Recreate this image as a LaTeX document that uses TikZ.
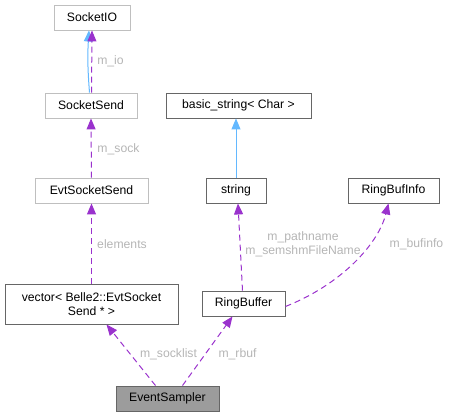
\documentclass[tikz,border=0pt]{standalone}
\usepackage{fontspec}
\setmainfont{Liberation Sans}
\usetikzlibrary{arrows.meta}
\definecolor{usepurple}{HTML}{9A32CD}
\definecolor{inhblue}{HTML}{63B8FF}
\definecolor{boxdark}{HTML}{666666}
\definecolor{boxlight}{HTML}{BFBFBF}
\definecolor{lblgray}{HTML}{B5B5B5}
\begin{document}
\begin{tikzpicture}[x=1pt,y=-1pt,font=\fontsize{12.2}{13.5}\selectfont,
	cls/.style={draw=boxdark,fill=white,line width=0.9pt,inner sep=0pt,minimum height=25pt},
	clslight/.style={cls,draw=boxlight},
	usage/.style={usepurple,line width=1pt,dash pattern=on 6pt off 4pt,-{Triangle[length=11pt,width=9pt]}},
	inherit/.style={inhblue,line width=1pt,-{Triangle[length=11pt,width=9pt]}},
	lbl/.style={lblgray,inner sep=0pt}]
	\useasboundingbox (0,0) rectangle (451,417);
	% left column
	\node[clslight,minimum width=76pt] (sio) at (92,17.5) {SocketIO};
	\node[clslight,minimum width=92pt] (ss) at (91,105.5) {SocketSend};
	\node[clslight,minimum width=113pt] (ess) at (91.5,190.5) {EvtSocketSend};
	\node[cls,minimum width=173pt,minimum height=40pt,align=center] (vec) at (91.5,304) {vector< Belle2::EvtSocket\\Send * >};
	% right part
	\node[cls,minimum width=145pt] (bstr) at (238.5,105.5) {basic\_string< Char >};
	\node[cls,minimum width=60pt] (str) at (236,190.5) {string};
	\node[cls,minimum width=91pt] (rbi) at (393.5,190.5) {RingBufInfo};
	\node[cls,minimum width=83pt] (rb) at (243.5,303.5) {RingBuffer};
	\node[cls,fill=boxdark!65,minimum width=103pt] (es) at (167.5,398.5) {EventSampler};
	% edges
	\draw[inherit] ([xshift=-1.5pt]ss.north) to[bend left=4] ([xshift=-3pt]sio.south);
	\draw[usage] ([xshift=0.5pt]ss.north) -- (sio.south);
	\draw[usage] (ess.north) -- (ss.south);
	\draw[usage] (vec.north) -- (ess.south);
	\draw[inherit] (str.north) -- (bstr.south -| str.north);
	\draw[usage] ([xshift=-1pt]rb.north) -- ([xshift=2pt]str.south);
	\draw[usage] ([yshift=-3pt]rb.east) .. controls (340,285) and (378,245) .. ([xshift=-5pt]rbi.south);
	\draw[usage] ([xshift=-12pt]es.north) -- ([xshift=15pt]vec.south);
	\draw[usage] ([xshift=15pt]es.north) -- ([xshift=-11pt]rb.south);
	% labels
	\node[lbl] (lio) at (110.5,61) {m\_io};
	\node[lbl] (lsock) at (118.5,149) {m\_sock};
	\node[lbl] (lel) at (122,244) {elements};
	\node[lbl,align=center] (lpath) at (303,244.5) {m\_pathname\\m\_semshmFileName};
	\node[lbl] (lbuf) at (416.5,244) {m\_bufinfo};
	\node[lbl] (lsl) at (168.5,354) {m\_socklist};
	\node[lbl] (lrb) at (237.5,354) {m\_rbuf};
\end{tikzpicture}
\end{document}
